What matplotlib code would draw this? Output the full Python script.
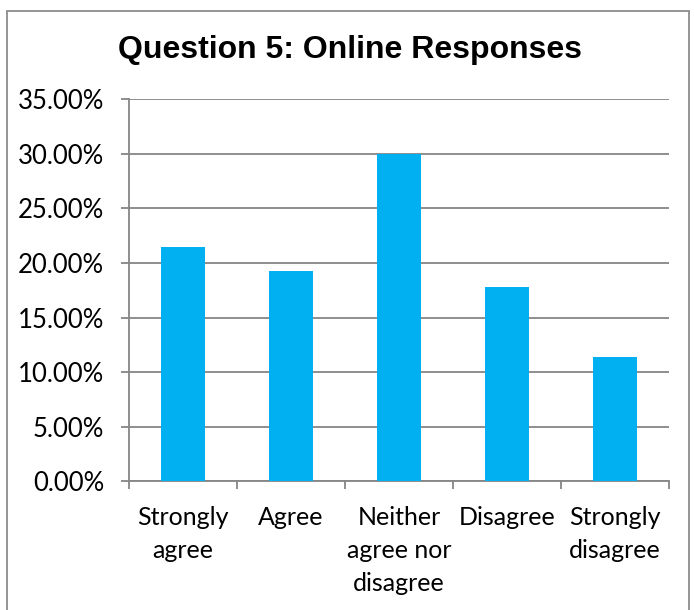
import numpy as np
import matplotlib.pyplot as plt
from matplotlib.patches import Rectangle
from matplotlib.ticker import FuncFormatter

# Survey results for question 5 (online)
categories = ["Strongly\nagree", "Agree", "Neither\nagree nor\ndisagree", "Disagree", "Strongly\ndisagree"]
shares = [21.5, 19.3, 30.0, 17.8, 11.4]
y_ticks = [0, 5, 10, 15, 20, 25, 30, 35]

fig = plt.figure(figsize=(6.94, 6.10), dpi=100)
ax = fig.add_axes([0.186, 0.2107, 0.778, 0.627])

grid_col = "#868686"
x = np.arange(len(categories))
ax.bar(x, shares, width=0.4, color="#00B0F0", zorder=3)

ax.set_xlim(-0.5, len(categories) - 0.5)
ax.set_ylim(0, 35)
ax.set_yticks(y_ticks)
ax.yaxis.set_major_formatter(FuncFormatter(lambda v, _: f"{v:.2f}%"))
ax.grid(axis="y", color=grid_col, linewidth=1.3, zorder=0)

ax.set_xticks(x)
ax.set_xticklabels(categories, fontsize=18, family="Lato", linespacing=1.52)
ax.set_xticks(np.arange(-0.5, len(categories)), minor=True)
ax.tick_params(axis="x", which="major", length=0, pad=18)
ax.tick_params(axis="x", which="minor", length=6, width=1.3, color=grid_col)
ax.tick_params(axis="y", length=6, width=1.3, color=grid_col, pad=12)
for lab in ax.get_yticklabels():
    lab.set_family("Lato")
    lab.set_fontsize(18.5)

for side in ["top", "right"]:
    ax.spines[side].set_visible(False)
ax.spines["left"].set_color(grid_col)
ax.spines["bottom"].set_color(grid_col)
ax.spines["left"].set_linewidth(1.3)
ax.spines["bottom"].set_linewidth(1.3)

fig.text(0.505, 0.918, "Question 5: Online Responses", ha="center", va="center",
         fontsize=23, fontweight="bold", family="Liberation Sans")

# chart frame
fig.patches.append(Rectangle((7 / 694, -0.05), 682 / 694, 1 - 11 / 610 + 0.05,
                             transform=fig.transFigure, fill=False,
                             edgecolor="#8c8c8c", linewidth=1.3))

fig.savefig("out.png", dpi=100)
